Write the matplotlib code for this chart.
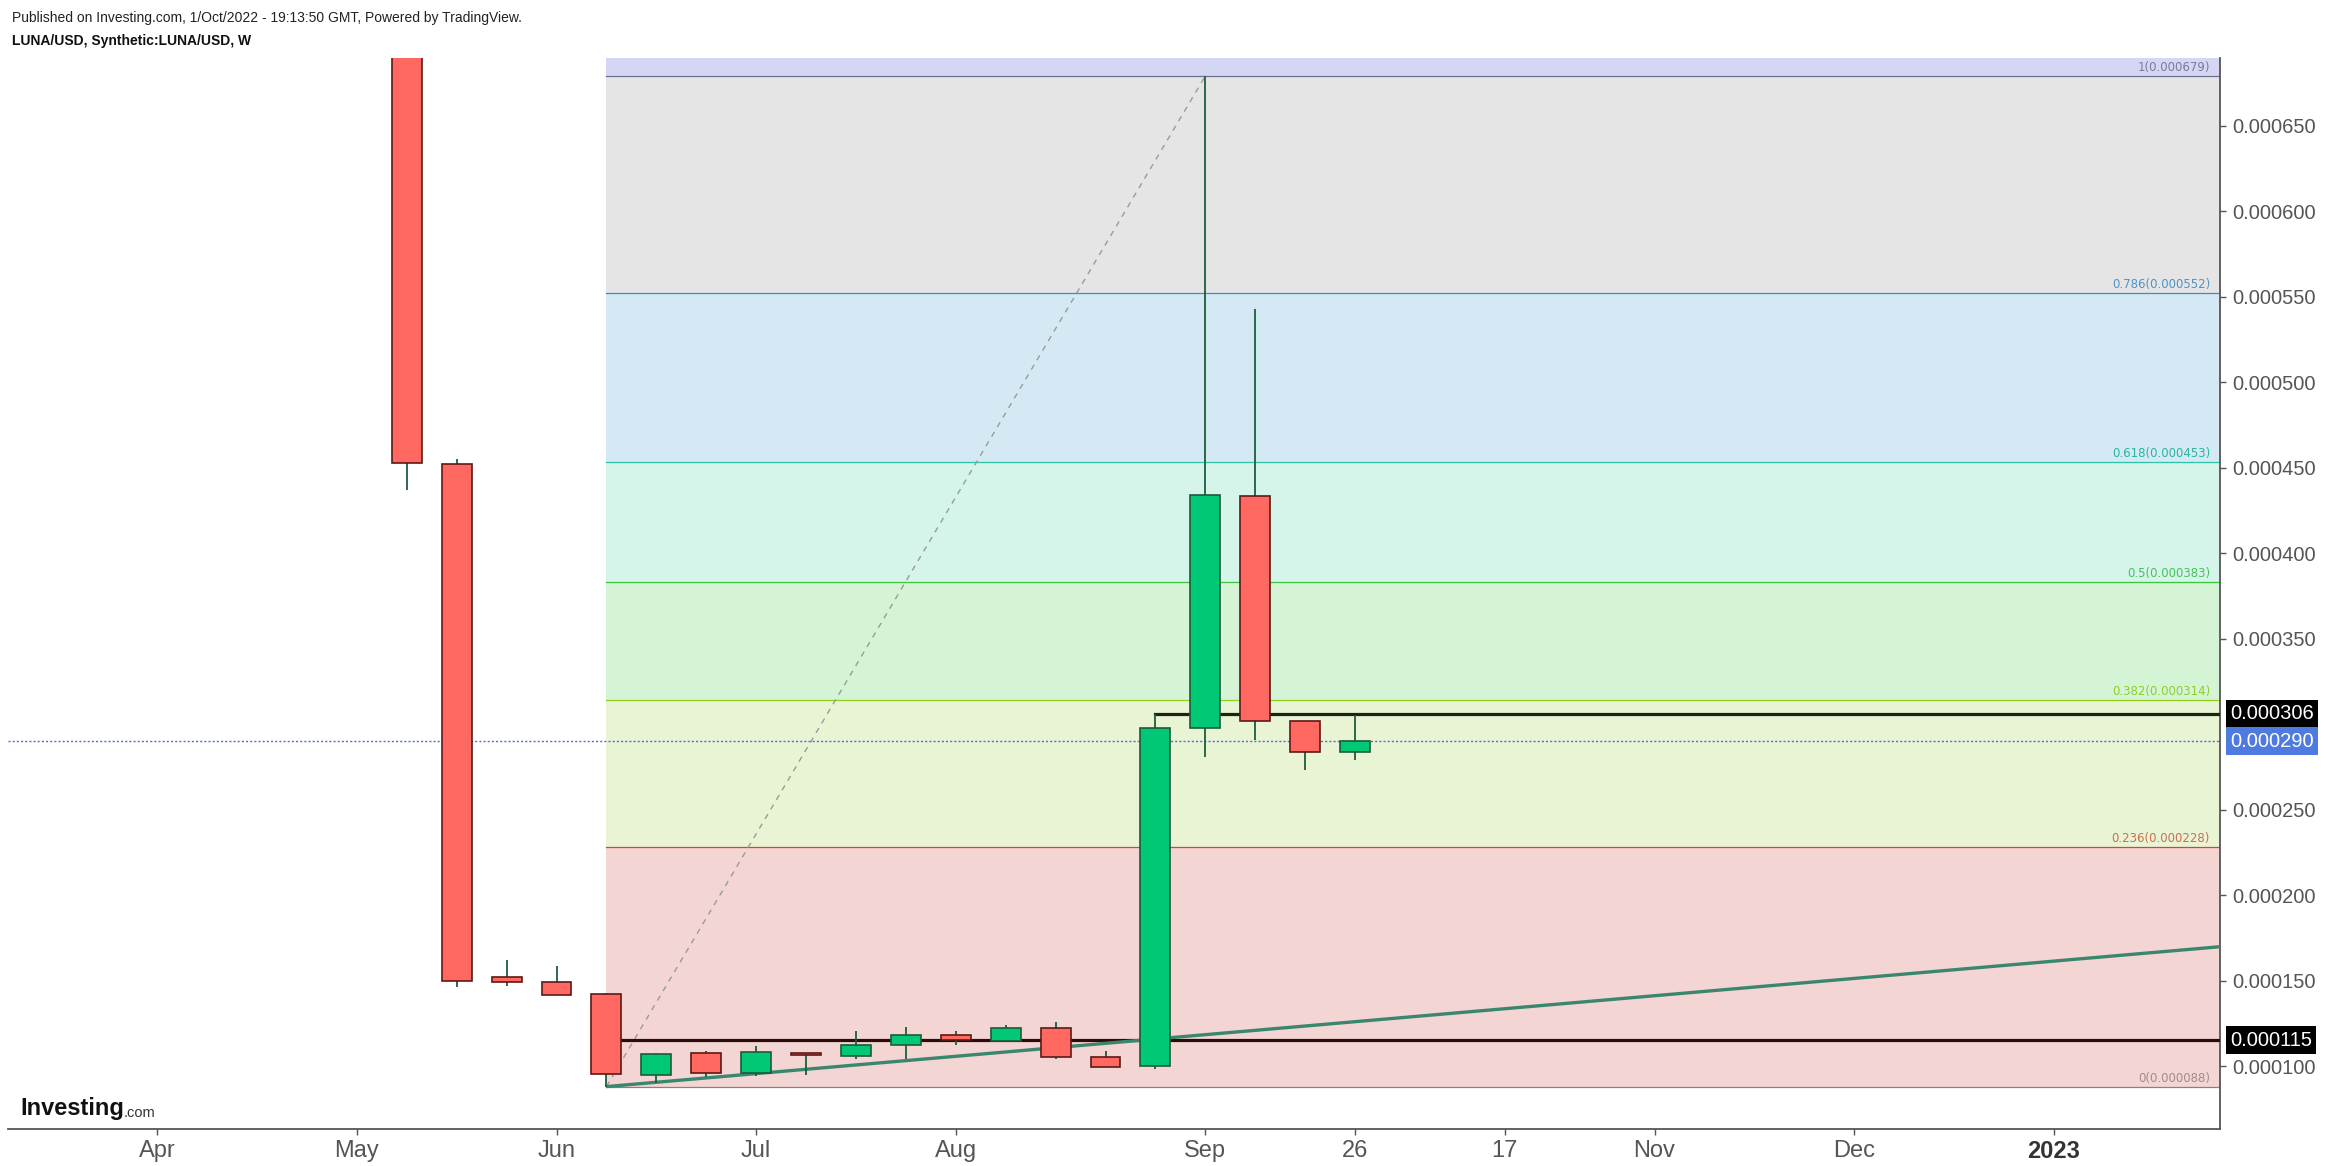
import matplotlib
matplotlib.use("Agg")
import matplotlib.pyplot as plt
import matplotlib.transforms as mtransforms
import numpy as np

# === Weekly candles (x = bar index, 0 = first April bar) ===
week_idx = [5, 6, 7, 8, 9, 10, 11, 12, 13, 14, 15, 16, 17, 18, 19, 20, 21, 22, 23, 24]
opens = [0.000890, 0.000452, 0.0001519, 0.0001489, 0.0001419, 0.0000946, 0.0001074,
         0.0000957, 0.0001074, 0.0001057, 0.0001121, 0.0001180, 0.0001144, 0.0001220,
         0.0001051, 0.0000998, 0.0002975, 0.0004332, 0.0003016, 0.0002838]
highs = [0.000950, 0.000455, 0.0001620, 0.0001585, 0.0001425, 0.0001074, 0.0001088,
         0.0001117, 0.0001074, 0.0001205, 0.0001228, 0.0001205, 0.0001240, 0.0001257,
         0.0001088, 0.0003059, 0.000679, 0.0005427, 0.0003016, 0.0003053]
lows = [0.0004368, 0.0001464, 0.0001470, 0.0001413, 0.0000880, 0.0000902, 0.0000934,
        0.0000943, 0.0000949, 0.0001043, 0.0001041, 0.0001125, 0.0001139, 0.0001043,
        0.0000992, 0.0000984, 0.0002809, 0.0002906, 0.0002731, 0.0002787]
closes = [0.0004526, 0.0001495, 0.0001489, 0.0001413, 0.0000951, 0.0001068, 0.0000957,
          0.0001080, 0.0001063, 0.0001121, 0.0001180, 0.0001150, 0.0001220, 0.0001051,
          0.0000992, 0.0002975, 0.0004337, 0.0003016, 0.0002835, 0.0002899]

# x-axis labels
tick_idx = [0, 4, 8, 12, 16, 21, 24, 27, 30, 34, 38]
tick_labels = ['Apr', 'May', 'Jun', 'Jul', 'Aug', 'Sep', '26', '17', 'Nov', 'Dec', '2023']

# y-axis ticks (0.000300 hidden behind the price tags)
y_ticks = [0.00010, 0.00015, 0.00020, 0.00025, 0.00035, 0.00040, 0.00045,
           0.00050, 0.00055, 0.00060, 0.00065]

# === Fibonacci retracement (from Jun low to Sep high) ===
fib_start, fib_end = 9, 21
fib_ratios = [0, 0.236, 0.382, 0.5, 0.618, 0.786, 1]
fib_prices = [0.000088, 0.000228, 0.000314, 0.000383, 0.000453, 0.000552, 0.000679]
fib_top = 0.001044  # 1.618 level, off chart
fib_line_colors = ['#8a8080', '#d9452c', '#8dd31a', '#3cc43c', '#2cc5a5', '#3b8fc4', '#6e6e8e']
fib_text_colors = ['#a08c8c', '#c8704e', '#8ad02a', '#45c25a', '#27b69b', '#4f94c4', '#7a7a9a']
fib_fills = ['#f3d5d4', '#e9f4d5', '#d5f4d5', '#d5f4ea', '#d5e9f4', '#e5e5e5', '#d5d5f4']

# horizontal lines / trendline
hline_low, hline_low_start = 0.000115, 9
hline_high, hline_high_start = 0.000306, 20
last_price = 0.000290
trend_x = [9, 41.33]
trend_y = [0.000088, 0.0001698]

x_min, x_max = -2.99, 41.33
y_min, y_max = 0.0000632, 0.0006895

NARROW = ['Liberation Sans Narrow', 'Liberation Sans', 'DejaVu Sans']
SANS = ['Liberation Sans', 'DejaVu Sans']

W, H = 2328, 1166
fig = plt.figure(figsize=(W / 100, H / 100), dpi=100)
ax = fig.add_axes([8 / W, 37 / H, (2220 - 8) / W, (1129 - 58) / H])
ax.set_xlim(x_min, x_max)
ax.set_ylim(y_min, y_max)

# fib bands
bounds = fib_prices + [fib_top]
for i in range(len(fib_fills)):
    ax.fill_between([fib_start, x_max], bounds[i], bounds[i + 1],
                    color=fib_fills[i], lw=0, zorder=0)
yx = mtransforms.blended_transform_factory(ax.transAxes, ax.transData)
for r, p, lc, tc in zip(fib_ratios, fib_prices, fib_line_colors, fib_text_colors):
    ax.plot([fib_start, x_max], [p, p], color=lc, lw=0.9, zorder=1)
    ax.text(0.9955, p + 0.0000012, f'{r:g}({p:.6f})', transform=yx,
            ha='right', va='bottom', fontsize=8.5, color=tc, family='DejaVu Sans', zorder=2)

# fib diagonal
ax.plot([fib_start, fib_end], [fib_prices[0], fib_prices[-1]], color='#9a9a9a',
        lw=1.0, ls=(0, (4, 4)), zorder=2)

# last price dotted line
ax.axhline(last_price, color='#4a6fd8', lw=1.0, ls=(0, (1.5, 1.5)), zorder=2)

# horizontal levels
ax.plot([hline_low_start, x_max], [hline_low, hline_low], color='#2a0c08', lw=2.3, zorder=3)
ax.plot([hline_high_start, x_max], [hline_high, hline_high], color='#1a2410', lw=2.3, zorder=3)

# trendline
ax.plot(trend_x, trend_y, color='#3a876e', lw=2.4, zorder=3, solid_capstyle='butt')

# candles
o = np.array(opens); c = np.array(closes)
up = c >= o
wx = np.array(week_idx)
ax.vlines(wx, lows, highs, color='#1b5e3b', lw=1.3, zorder=4)
body_lo = np.minimum(o, c)
body_h = np.abs(c - o)
ax.bar(wx[up], body_h[up], bottom=body_lo[up], width=0.6, color='#00c875',
       edgecolor='#1e5a3a', lw=1.2, zorder=5)
ax.bar(wx[~up], body_h[~up], bottom=body_lo[~up], width=0.6, color='#ff6961',
       edgecolor='#5c1a14', lw=1.2, zorder=5)

# axes styling
for s in ['top', 'left']:
    ax.spines[s].set_visible(False)
for s in ['bottom', 'right']:
    ax.spines[s].set_color('#555555')
    ax.spines[s].set_linewidth(1.3)
ax.yaxis.tick_right()
ax.set_yticks(y_ticks)
ax.set_yticklabels([f'{v:.6f}' for v in y_ticks])
ax.tick_params(axis='y', direction='out', length=4, width=1, color='#555555',
               labelsize=14.5, labelcolor='#555555', pad=5)
for t in ax.get_yticklabels():
    t.set_family(SANS)
ax.set_xticks(tick_idx)
ax.set_xticklabels(tick_labels)
ax.tick_params(axis='x', direction='out', length=4, width=1, color='#555555',
               labelsize=17, labelcolor='#555555', pad=4)
for t in ax.get_xticklabels():
    t.set_family(NARROW)
ax.get_xticklabels()[-1].set_fontweight('bold')
ax.get_xticklabels()[-1].set_color('#333333')

# price tags on the right axis
for val, bg in [(hline_high, 'black'), (last_price, '#4f7be0'), (hline_low, 'black')]:
    ax.text(1.0045, val, f'{val:.6f}', transform=yx, ha='left', va='center',
            fontsize=14.5, color='white', family=SANS, zorder=10, clip_on=False,
            bbox=dict(boxstyle='square,pad=0.22', fc=bg, ec='none'))

# header
fig.text(12 / W, 1 - 18 / H, 'Published on Investing.com, 1/Oct/2022 - 19:13:50 GMT, Powered by TradingView.',
         fontsize=10, family=SANS, color='#222222', va='center', ha='left')
fig.text(12 / W, 1 - 41 / H, 'LUNA/USD, Synthetic:LUNA/USD, W', fontsize=10, family=SANS,
         fontweight='bold', color='#111111', va='center', ha='left')

# logo
logo = fig.text(20 / W, 1 - 1115 / H, 'Investing', fontsize=17, family=NARROW,
                fontweight='bold', color='#111111', va='baseline', ha='left')
fig.canvas.draw()
ax.annotate('.com', xy=(1, 0), xycoords=logo, va='bottom', ha='left',
            fontsize=10.5, family=NARROW, color='#333333', annotation_clip=False)

fig.savefig('out.png', dpi=100, facecolor='white')
